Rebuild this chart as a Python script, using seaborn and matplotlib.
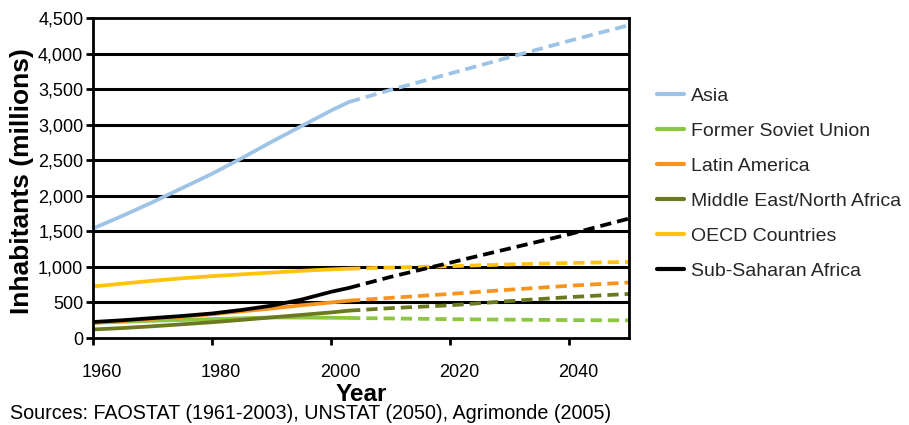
import matplotlib
matplotlib.use("Agg")
import matplotlib.pyplot as plt
import matplotlib.transforms as mtransforms
import seaborn as sns
import pandas as pd
from matplotlib.lines import Line2D
from matplotlib.ticker import FuncFormatter

regions = ["Asia", "Former Soviet Union", "Latin America",
           "Middle East/North Africa", "OECD Countries", "Sub-Saharan Africa"]
colors = ["#9dc3e6", "#8dc63f", "#f7941d", "#6b7a1f", "#ffc20e", "#000000"]

years_hist = [1960, 1965, 1970, 1975, 1980, 1985, 1990, 1995, 2000, 2003]
years_proj = [2003, 2010, 2020, 2030, 2040, 2050]

asia_hist = [1540, 1720, 1910, 2110, 2310, 2530, 2760, 2980, 3200, 3320]
asia_proj = [3320, 3490, 3720, 3950, 4180, 4400]
fsu_hist = [214, 228, 242, 254, 265, 278, 289, 287, 285, 282]
fsu_proj = [282, 275, 265, 258, 252, 248]
latam_hist = [215, 240, 270, 300, 335, 375, 415, 460, 500, 525]
latam_proj = [525, 565, 620, 680, 735, 780]
mena_hist = [120, 140, 165, 193, 222, 255, 290, 325, 360, 385]
mena_proj = [385, 420, 460, 520, 575, 620]
oecd_hist = [725, 765, 805, 840, 870, 895, 920, 945, 965, 975]
oecd_proj = [975, 990, 1010, 1035, 1055, 1070]
ssa_hist = [225, 250, 280, 310, 345, 395, 455, 540, 650, 705]
ssa_proj = [705, 860, 1060, 1260, 1460, 1680]

hist = [asia_hist, fsu_hist, latam_hist, mena_hist, oecd_hist, ssa_hist]
proj = [asia_proj, fsu_proj, latam_proj, mena_proj, oecd_proj, ssa_proj]

rows = []
for r, h, p in zip(regions, hist, proj):
    for y, v in zip(years_hist, h):
        rows.append((r, "Historical", y, v))
    for y, v in zip(years_proj, p):
        rows.append((r, "Projection", y, v))
df = pd.DataFrame(rows, columns=["Region", "Period", "Year", "Value"])

sns.set_theme(style="white")
plt.rcParams['font.family'] = ['Liberation Sans', 'DejaVu Sans']

fig = plt.figure(figsize=(9.09, 4.25), dpi=100)
ax = fig.add_axes([0.1023, 0.2047, 0.5897, 0.7529])

palette = dict(zip(regions, colors))
sns.lineplot(data=df, x="Year", y="Value", hue="Region", style="Period",
             palette=palette, dashes={"Historical": "", "Projection": (3, 1.6)},
             linewidth=2.7, legend=False, ax=ax, sort=False, estimator=None,
             units="Period")

ax.set_xlim(1960, 2050)
ax.set_ylim(0, 4500)
ax.set_xticks([1960, 1980, 2000, 2020, 2040])
ax.set_yticks(range(0, 4501, 500))
ax.yaxis.set_major_formatter(FuncFormatter(lambda v, p: f"{int(v):,}"))
for yv in range(500, 4500, 500):
    ax.axhline(yv, color="black", linewidth=2.2, zorder=0.5)

for s in ax.spines.values():
    s.set_color("black")
    s.set_linewidth(2)

ax.tick_params(axis="both", which="major", direction="out", length=5, width=2,
               color="black", labelsize=13, left=True, bottom=True)
ax.tick_params(axis="x", pad=14)
ax.tick_params(axis="y", pad=2)
shift = mtransforms.ScaledTranslation(9 / 100, 0, fig.dpi_scale_trans)
for lbl in ax.get_xticklabels():
    lbl.set_transform(lbl.get_transform() + shift)
for lbl in ax.get_xticklabels() + ax.get_yticklabels():
    lbl.set_color("black")

ax.set_xlabel("Year", fontsize=17.5, fontweight="bold", color="black")
ax.xaxis.label.set_va("center")
ax.xaxis.set_label_coords(0.5, -0.176)
ax.set_ylabel("Inhabitants (millions)", fontsize=19, fontweight="bold",
              color="black")
ax.yaxis.label.set_va("center")
ax.yaxis.set_label_coords(-0.133, 0.49)

fig.text(0.011, 0.004, "Sources: FAOSTAT (1961-2003), UNSTAT (2050), Agrimonde (2005)",
         fontsize=14.2, color="black", ha="left", va="bottom")

handles = [Line2D([0], [0], color=c, linewidth=3) for c in colors]
fig.legend(handles, regions, loc="center left", bbox_to_anchor=(0.7228, 0.568),
           frameon=False, fontsize=14, handlelength=1.4, handletextpad=0.36,
           labelspacing=0.9, borderpad=0, borderaxespad=0)

fig.savefig("out.png", dpi=100)
